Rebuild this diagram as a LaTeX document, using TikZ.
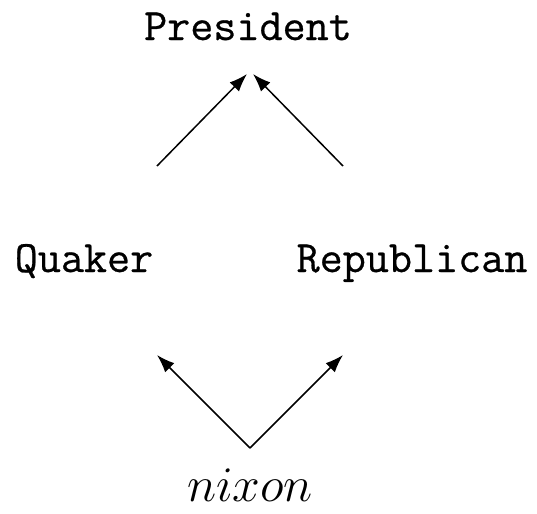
\documentclass[tikz,border=0pt]{standalone}
\usepackage{fontspec}
\newfontfamily\ttheavy{Latin Modern Mono}[FakeBold=0.6]
\usetikzlibrary{arrows.meta}
\begin{document}
\begin{tikzpicture}[x=0.5pt,y=-0.5pt,
  lbl/.style={inner sep=0pt,anchor=base,font=\fontsize{22.4}{26}\selectfont},
  arr/.style={line width=0.75pt,-{Latex[length=9pt,width=6.5pt]}}]
\useasboundingbox (0,0) rectangle (537,514);
\node[lbl] (pres) at (248,40) {\ttheavy President};
\node[lbl] (quak) at (84,272) {\ttheavy Quaker};
\node[lbl] (rep) at (412,272) {\ttheavy Republican};
\node[lbl,font=\fontsize{24}{28}\selectfont] (nix) at (250,502) {$nixon$};
\coordinate (qtop) at (157,166);
\coordinate (rtop) at (343,166);
\coordinate (ptipl) at (247,74);
\coordinate (ptipr) at (253,74);
\coordinate (nbot) at (250,448);
\coordinate (qtip) at (157,355);
\coordinate (rtip) at (343,355);
\draw[arr] (qtop) -- (ptipl);
\draw[arr] (rtop) -- (ptipr);
\draw[arr] (nbot) -- (qtip);
\draw[arr] (nbot) -- (rtip);
\end{tikzpicture}
\end{document}
